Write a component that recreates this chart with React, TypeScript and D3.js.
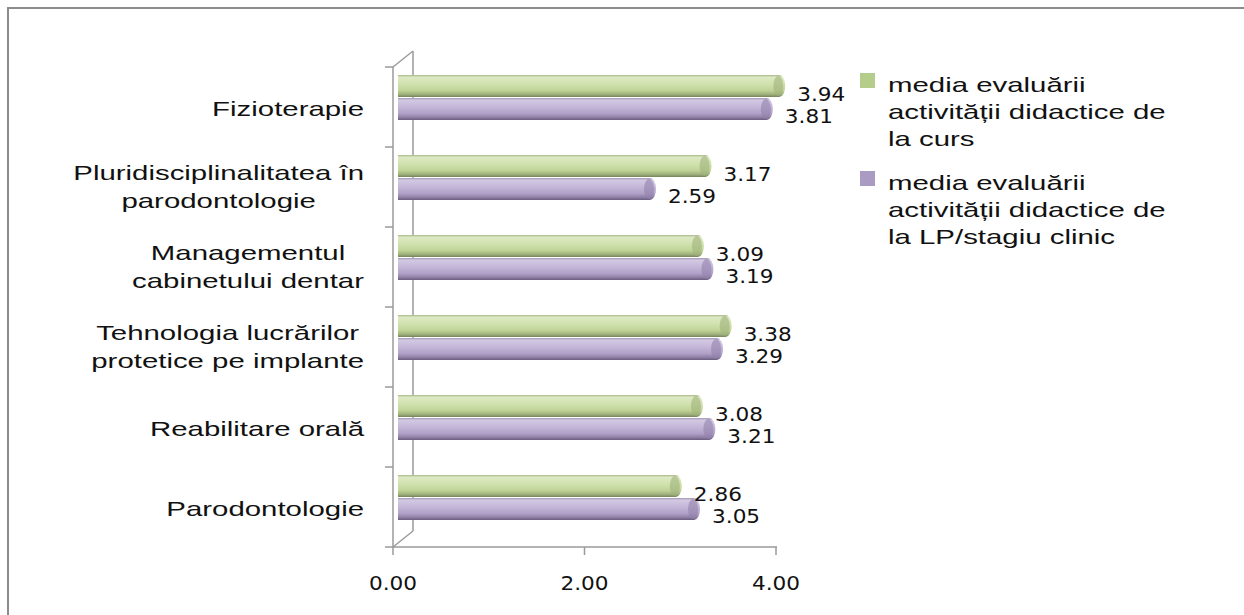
import React, { useEffect, useRef } from "react";
import * as d3 from "d3";

const categoryLines: string[][] = [
  ["Fizioterapie"],
  ["Pluridisciplinalitatea în", "parodontologie"],
  ["Managementul", "cabinetului dentar"],
  ["Tehnologia lucrărilor", "protetice pe implante"],
  ["Reabilitare orală"],
  ["Parodontologie"],
];
const categories = categoryLines.map((l) => l.join(" "));
const cursValues = [3.94, 3.17, 3.09, 3.38, 3.08, 2.86];
const lpValues = [3.81, 2.59, 3.19, 3.29, 3.21, 3.05];
const xTicks = [0, 2, 4];
const seriesNames: string[][] = [
  ["media evaluării", "activității didactice de", "la curs"],
  ["media evaluării", "activității didactice de", "la LP/stagiu clinic"],
];

const W = 1244;
const H = 615;

export default function App() {
  const ref = useRef<SVGSVGElement | null>(null);

  useEffect(() => {
    const svg = d3.select(ref.current);
    svg.selectAll("*").remove();

    const defs = svg.append("defs");
    const mkGrad = (id: string, stops: [number, string][]) => {
      const g = defs
        .append("linearGradient")
        .attr("id", id)
        .attr("x1", 0)
        .attr("y1", 0)
        .attr("x2", 0)
        .attr("y2", 1);
      stops.forEach(([o, c]) => g.append("stop").attr("offset", o).attr("stop-color", c));
    };
    mkGrad("gGreen", [
      [0, "#a9b98a"],
      [0.1, "#dde9c4"],
      [0.4, "#d1e2ae"],
      [0.7, "#c0d499"],
      [0.88, "#9fb17c"],
      [1, "#75835a"],
    ]);
    mkGrad("gPurple", [
      [0, "#a49ab5"],
      [0.1, "#d3c9e2"],
      [0.4, "#c4b7d9"],
      [0.7, "#b0a1c8"],
      [0.88, "#8f7fa7"],
      [1, "#685d7e"],
    ]);

    const font = "'Liberation Sans', Arial, sans-serif";
    const numFont = "'DejaVu Sans', Verdana, sans-serif";
    const sx = 1.4;
    const nsx = 1.08;

    // outer frame
    svg
      .append("rect")
      .attr("x", 8)
      .attr("y", 8)
      .attr("width", W + 20)
      .attr("height", H + 20)
      .attr("fill", "white")
      .attr("stroke", "#8c8c8c")
      .attr("stroke-width", 2);

    const x = d3.scaleLinear().domain([0, 4]).range([393, 776]);
    const y = d3.scaleBand().domain(categories).range([67, 547]).paddingInner(0);
    const dx = 20;
    const dy = -16;
    const axisColor = "#9a9a9a";

    const g3 = svg.append("g").attr("stroke", axisColor).attr("stroke-width", 1.5).attr("fill", "none");
    g3.append("line").attr("x1", x(0) + dx).attr("x2", x(0) + dx).attr("y1", 67 + dy).attr("y2", 547 + dy);
    g3.append("line").attr("x1", x(0)).attr("x2", x(0) + dx).attr("y1", 67).attr("y2", 67 + dy);
    g3.append("line").attr("x1", x(0)).attr("x2", x(0) + dx).attr("y1", 547).attr("y2", 547 + dy);

    g3.append("line").attr("x1", x(0)).attr("x2", x(0)).attr("y1", 67).attr("y2", 547);
    const bandTicks = categories.map((c) => y(c) as number).concat([547]);
    bandTicks.forEach((ty) => {
      g3.append("line").attr("x1", x(0) - 8).attr("x2", x(0)).attr("y1", ty).attr("y2", ty);
    });
    g3.append("line").attr("x1", x(0)).attr("x2", x(4) + 1).attr("y1", 547).attr("y2", 547);
    xTicks.forEach((t) => {
      g3.append("line").attr("x1", x(t)).attr("x2", x(t)).attr("y1", 547).attr("y2", 555);
    });

    xTicks.forEach((t) => {
      svg
        .append("g")
        .attr("transform", `translate(${x(t)},590) scale(${nsx},1)`)
        .append("text")
        .attr("text-anchor", "middle")
        .attr("font-family", numFont)
        .attr("font-size", 20)
        .attr("fill", "#111")
        .text(d3.format(".2f")(t));
    });

    const drawBar = (yTop: number, h: number, v: number, grad: string, capColor: string) => {
      const x0 = x(0) + 5;
      const x1 = x(v) + 15;
      const rx = 6;
      const p = `M${x0},${yTop} L${x1 - rx},${yTop} A${rx},${h / 2} 0 0 1 ${x1 - rx},${yTop + h} L${x0},${yTop + h} Z`;
      svg.append("path").attr("d", p).attr("fill", `url(#${grad})`);
      svg
        .append("ellipse")
        .attr("cx", x1 - rx - 1)
        .attr("cy", yTop + h / 2)
        .attr("rx", rx - 1)
        .attr("ry", h / 2 - 1)
        .attr("fill", capColor)
        .attr("opacity", 0.6);
    };

    categories.forEach((c, i) => {
      const y0 = y(c) as number;
      drawBar(y0 + 8, 22, cursValues[i], "gGreen", "#a0b37c");
      drawBar(y0 + 31, 22, lpValues[i], "gPurple", "#9282ab");

      [
        [cursValues[i], y0 + 34],
        [lpValues[i], y0 + 56],
      ].forEach(([v, by]) => {
        svg
          .append("g")
          .attr("transform", `translate(${x(v) + 27},${by}) scale(${nsx},1)`)
          .append("text")
          .attr("font-family", numFont)
          .attr("font-size", 20)
          .attr("fill", "#111")
          .text(d3.format(".2f")(v));
      });

      const lines = categoryLines[i];
      const center = y0 + y.bandwidth() / 2;
      const baselines = lines.length === 1 ? [center + 9] : [center - 7, center + 21];
      const lg = svg.append("g");
      const inner = lg.append("g").attr("transform", `scale(${sx},1)`);
      const texts = lines.map((ln, k) =>
        inner
          .append("text")
          .attr("x", 0)
          .attr("y", baselines[k])
          .attr("text-anchor", "middle")
          .attr("font-family", font)
          .attr("font-size", 21)
          .attr("fill", "#111")
          .text(ln)
      );
      const maxW = d3.max(texts, (t) => (t.node() as SVGTextElement).getComputedTextLength()) || 0;
      lg.attr("transform", `translate(${364 - (maxW * sx) / 2},0)`);
    });

    const legColors = ["#b5cd8a", "#a99bc2"];
    const legTop = [92, 190];
    seriesNames.forEach((lines, s) => {
      svg
        .append("rect")
        .attr("x", 860)
        .attr("y", legTop[s] - 19)
        .attr("width", 15)
        .attr("height", 15)
        .attr("fill", legColors[s]);
      lines.forEach((ln, k) => {
        svg
          .append("g")
          .attr("transform", `translate(888,${legTop[s] + k * 27}) scale(${sx},1)`)
          .append("text")
          .attr("font-family", font)
          .attr("font-size", 21)
          .attr("fill", "#111")
          .text(ln);
      });
    });
  }, []);

  return (
    <svg
      ref={ref}
      width={W}
      height={H}
      style={{ position: "absolute", left: 0, top: 0, background: "white" }}
    />
  );
}
